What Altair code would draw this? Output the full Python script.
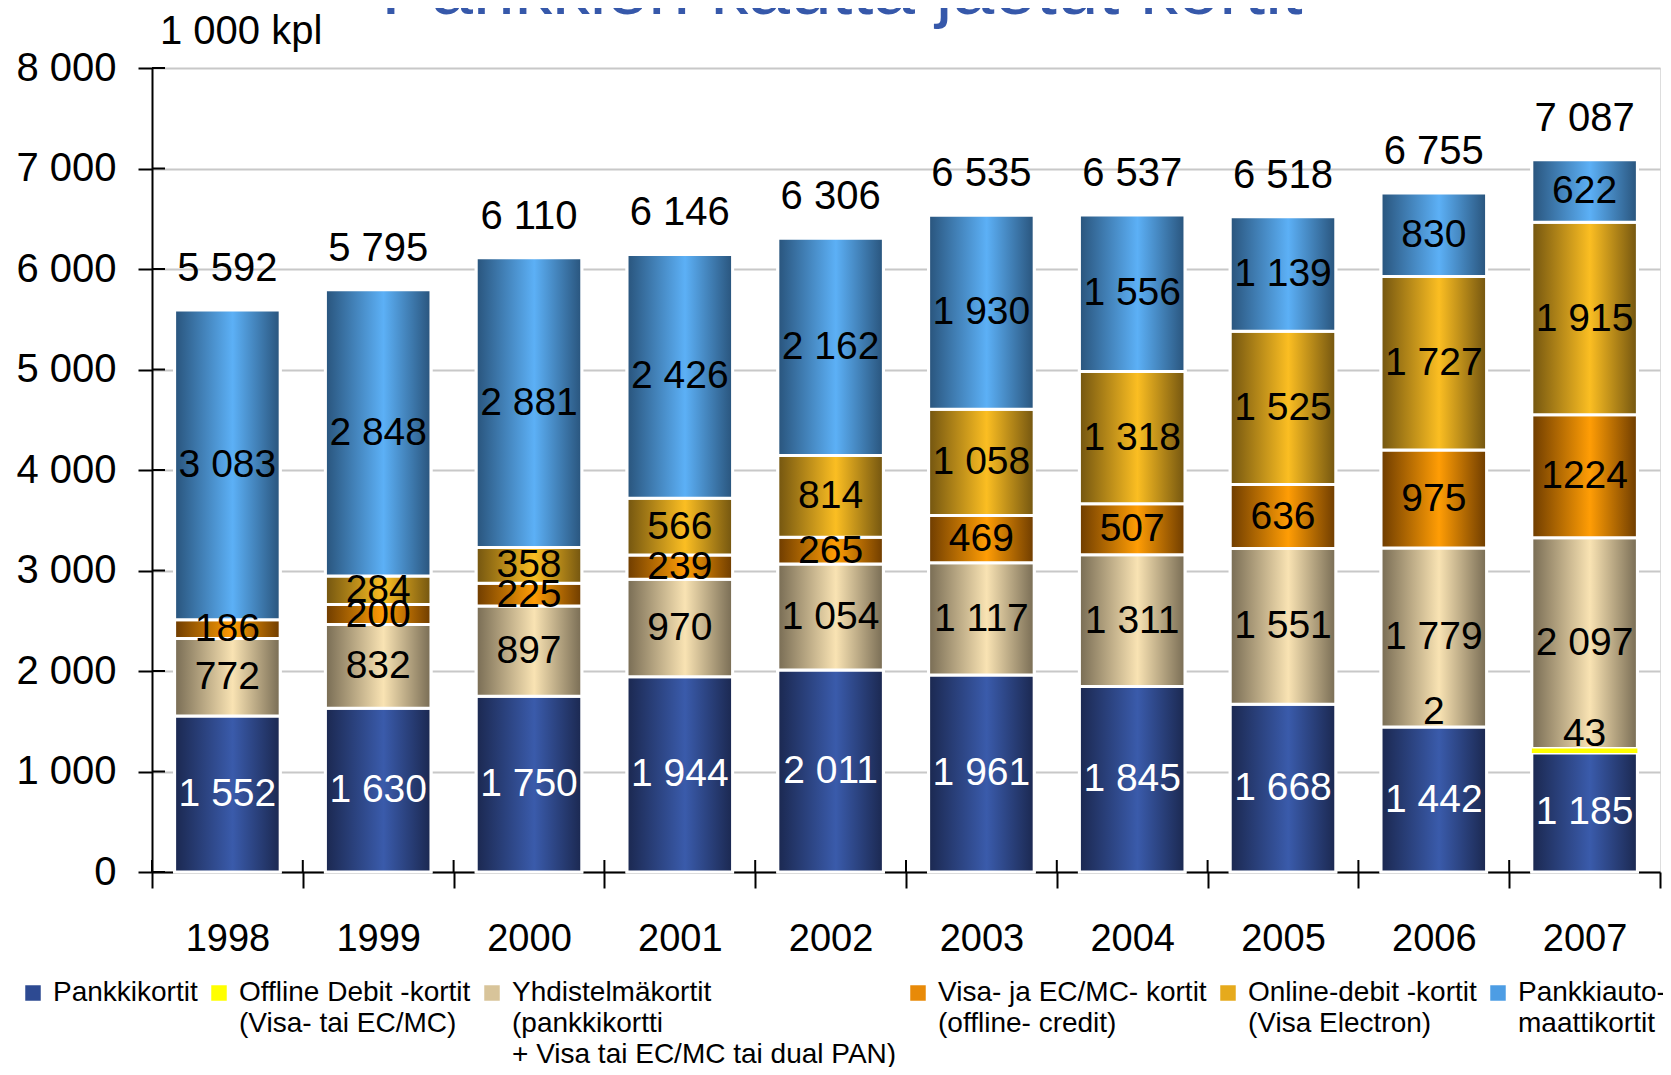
import altair as alt
import pandas as pd

# ---------------- data ----------------
years = ["1998", "1999", "2000", "2001", "2002", "2003", "2004", "2005", "2006", "2007"]
series = [
    "Pankkikortit",
    "Offline Debit -kortit",
    "Yhdistelmäkortit",
    "Visa- ja EC/MC- kortit",
    "Online-debit -kortit",
    "Pankkiautomaattikortit",
]
pankkikortit = [1552, 1630, 1750, 1944, 2011, 1961, 1845, 1668, 1442, 1185]
offline_debit = [0, 0, 0, 0, 0, 0, 0, 0, 2, 43]
yhdistelma = [772, 832, 897, 970, 1054, 1117, 1311, 1551, 1779, 2097]
visa_ecmc = [186, 200, 225, 239, 265, 469, 507, 636, 975, 1224]
online_debit = [0, 284, 358, 566, 814, 1058, 1318, 1525, 1727, 1915]
automaatti = [3083, 2848, 2881, 2426, 2162, 1930, 1556, 1139, 830, 622]
totals = [5592, 5795, 6110, 6146, 6306, 6535, 6537, 6518, 6755, 7087]
label_overrides = {("2007", "Visa- ja EC/MC- kortit"): "1224"}
y_ticks = [0, 1000, 2000, 3000, 4000, 5000, 6000, 7000, 8000]

legend_lines = [
    ["Pankkikortit"],
    ["Offline Debit -kortit", "(Visa- tai EC/MC)"],
    ["Yhdistelmäkortit", "(pankkikortti", "+ Visa tai EC/MC tai dual PAN)"],
    ["Visa- ja EC/MC- kortit", "(offline- credit)"],
    ["Online-debit -kortit", "(Visa Electron)"],
    ["Pankkiauto-", "maattikortit"],
]
title_text = "Pankkien kautta jaetut kortit"
unit_text = "1 000 kpl"

flat_colors = ["#2d4a92", "#ffff00", "#d8c49a", "#e88a08", "#e6aa1c", "#4d9de4"]
grad_colors = {
    "Pankkikortit": ("#1b2850", "#3a5bab"),
    "Yhdistelmäkortit": ("#786c54", "#f9e3b3"),
    "Visa- ja EC/MC- kortit": ("#6e3c00", "#ff9d05"),
    "Online-debit -kortit": ("#735510", "#fbbe22"),
    "Pankkiautomaattikortit": ("#29547c", "#5cb0f6"),
}

FONT = "Liberation Sans"
W, H = 1508, 804
BAR = {"band": 0.7}

# ---------------- tables ----------------
values = [pankkikortit, offline_debit, yhdistelma, visa_ecmc, online_debit, automaatti]
rows = []
for i, yr in enumerate(years):
    base = 0
    for s, vals in zip(series, values):
        v = vals[i]
        if v <= 0:
            continue
        txt = label_overrides.get((yr, s), f"{v:,}".replace(",", " "))
        rows.append(dict(year=yr, series=s, value=v, y0=base, y1=base + v,
                         mid=base + v / 2, label=txt))
        base += v
df = pd.DataFrame(rows)

tops = df.groupby("year")["y1"].max().reindex(years).tolist()
df_tot = pd.DataFrame(dict(year=years, top=tops,
                           label=[f"{t:,}".replace(",", " ") for t in totals]))
df_ticks = pd.DataFrame(dict(v=y_ticks))
df_years = pd.DataFrame(dict(year=years))

# ---------------- encodings ----------------
xenc = alt.X(
    "year:N",
    sort=years,
    title=None,
    scale=alt.Scale(paddingInner=0, paddingOuter=0),
    axis=alt.Axis(
        labelAngle=0, labelFont=FONT, labelFontSize=38, labelColor="black",
        labelPadding=32, tickBand="extent", tickSize=16, tickWidth=2,
        tickColor="black", domainColor="black", domainWidth=2, grid=False,
    ),
)
xs = alt.X("year:N", sort=years)
yscale = alt.Scale(domain=[0, 8000], nice=False)
yaxis = alt.Axis(
    values=y_ticks, labelExpr="replace(format(datum.value, ','), ',', ' ')",
    labelFont=FONT, labelFontSize=40, labelColor="black", labelPadding=22,
    tickSize=14, tickWidth=2, tickColor="black", domainColor="black",
    domainWidth=2, grid=True, gridColor="#c8c8c8", gridWidth=2,
)

# all legend labels padded to 3 lines so every entry has the same height
def js_arr(lines):
    padded = lines + [""] * (3 - len(lines))
    return "[" + ", ".join("'" + l + "'" for l in padded) + "]"

legend_expr = ""
for s, lines in zip(series[:-1], legend_lines[:-1]):
    legend_expr += f"datum.label == '{s}' ? {js_arr(lines)} : "
legend_expr += js_arr(legend_lines[-1])

base = alt.Chart(df)

flat = base.mark_bar(stroke="white", strokeWidth=3, width=BAR).encode(
    x=xenc,
    y=alt.Y("y0:Q", scale=yscale, axis=yaxis, title=None),
    y2="y1:Q",
    color=alt.Color(
        "series:N",
        scale=alt.Scale(domain=series, range=flat_colors),
        legend=alt.Legend(
            orient="none", legendX=-133, legendY=911, direction="horizontal",
            columns=6, title=None, symbolType="square", symbolSize=240,
            symbolStrokeWidth=0, labelFont=FONT, labelFontSize=28,
            labelColor="black", labelLimit=800, labelExpr=legend_expr,
            columnPadding=7, labelOffset=6, labelBaseline="middle",
        ),
    ),
)

layers = [flat]
for s in series:
    if s == "Offline Debit -kortit":
        continue
    dark, light = grad_colors[s]
    grad = {
        "gradient": "linear", "x1": 0, "x2": 1, "y1": 0, "y2": 0,
        "stops": [
            {"offset": 0, "color": dark},
            {"offset": 0.55, "color": light},
            {"offset": 1, "color": dark},
        ],
    }
    layers.append(
        base.transform_filter(alt.datum.series == s)
        .mark_bar(color=grad, stroke="white", strokeWidth=3, width=BAR)
        .encode(x=xs, y="y0:Q", y2="y1:Q")
    )

layers.append(
    base.transform_filter(alt.datum.series == "Offline Debit -kortit")
    .mark_bar(color="#ffff00", strokeWidth=0, width=BAR)
    .encode(x=xs, y="y0:Q", y2="y1:Q")
)

# segment labels
layers.append(
    base.transform_filter(alt.datum.series != "Offline Debit -kortit")
    .mark_text(font=FONT, fontSize=39, baseline="middle")
    .encode(
        x=xs, y="mid:Q", text="label:N",
        color=alt.condition(alt.datum.series == "Pankkikortit",
                            alt.value("white"), alt.value("black")),
    )
)
layers.append(
    base.transform_filter(alt.datum.series == "Offline Debit -kortit")
    .mark_text(font=FONT, fontSize=39, baseline="alphabetic", dy=-3, color="black")
    .encode(x=xs, y="y1:Q", text="label:N")
)

# totals
layers.append(
    alt.Chart(df_tot)
    .mark_text(font=FONT, fontSize=40, baseline="alphabetic", dy=-29, color="black")
    .encode(x=xs, y="top:Q", text="label:N")
)

# inward part of y ticks
layers.append(
    alt.Chart(df_ticks).mark_rule(color="black", strokeWidth=2)
    .encode(y="v:Q", x=alt.value(0), x2=alt.value(13))
)
# upward part of x ticks
layers.append(
    alt.Chart(df_years).mark_rule(color="black", strokeWidth=2)
    .encode(x=alt.X("year:N", sort=years, bandPosition=0),
            y=alt.value(H - 12), y2=alt.value(H))
)

# unit text and (cropped) title
layers.append(
    alt.Chart(pd.DataFrame(dict(t=[unit_text])))
    .mark_text(font=FONT, fontSize=40, align="left", baseline="alphabetic", color="black")
    .encode(text="t:N", x=alt.value(8), y=alt.value(-24))
)
layers.append(
    alt.Chart(pd.DataFrame(dict(t=[title_text])))
    .mark_text(font=FONT, fontSize=75, align="center", baseline="alphabetic", color="#3658aa")
    .encode(text="t:N", x=alt.value(690), y=alt.value(-54))
)

chart = (
    alt.layer(*layers)
    .properties(
        width=W, height=H,
        autosize=alt.AutoSizeParams(type="none"),
        padding={"left": 144, "top": 60, "right": 3, "bottom": 195},
    )
    .configure_view(stroke=None)
    .configure(background="white", style={"guide-label": {"lineHeight": 31}})
)

chart.save("out.html", embed_options={"renderer": "svg", "actions": False})
